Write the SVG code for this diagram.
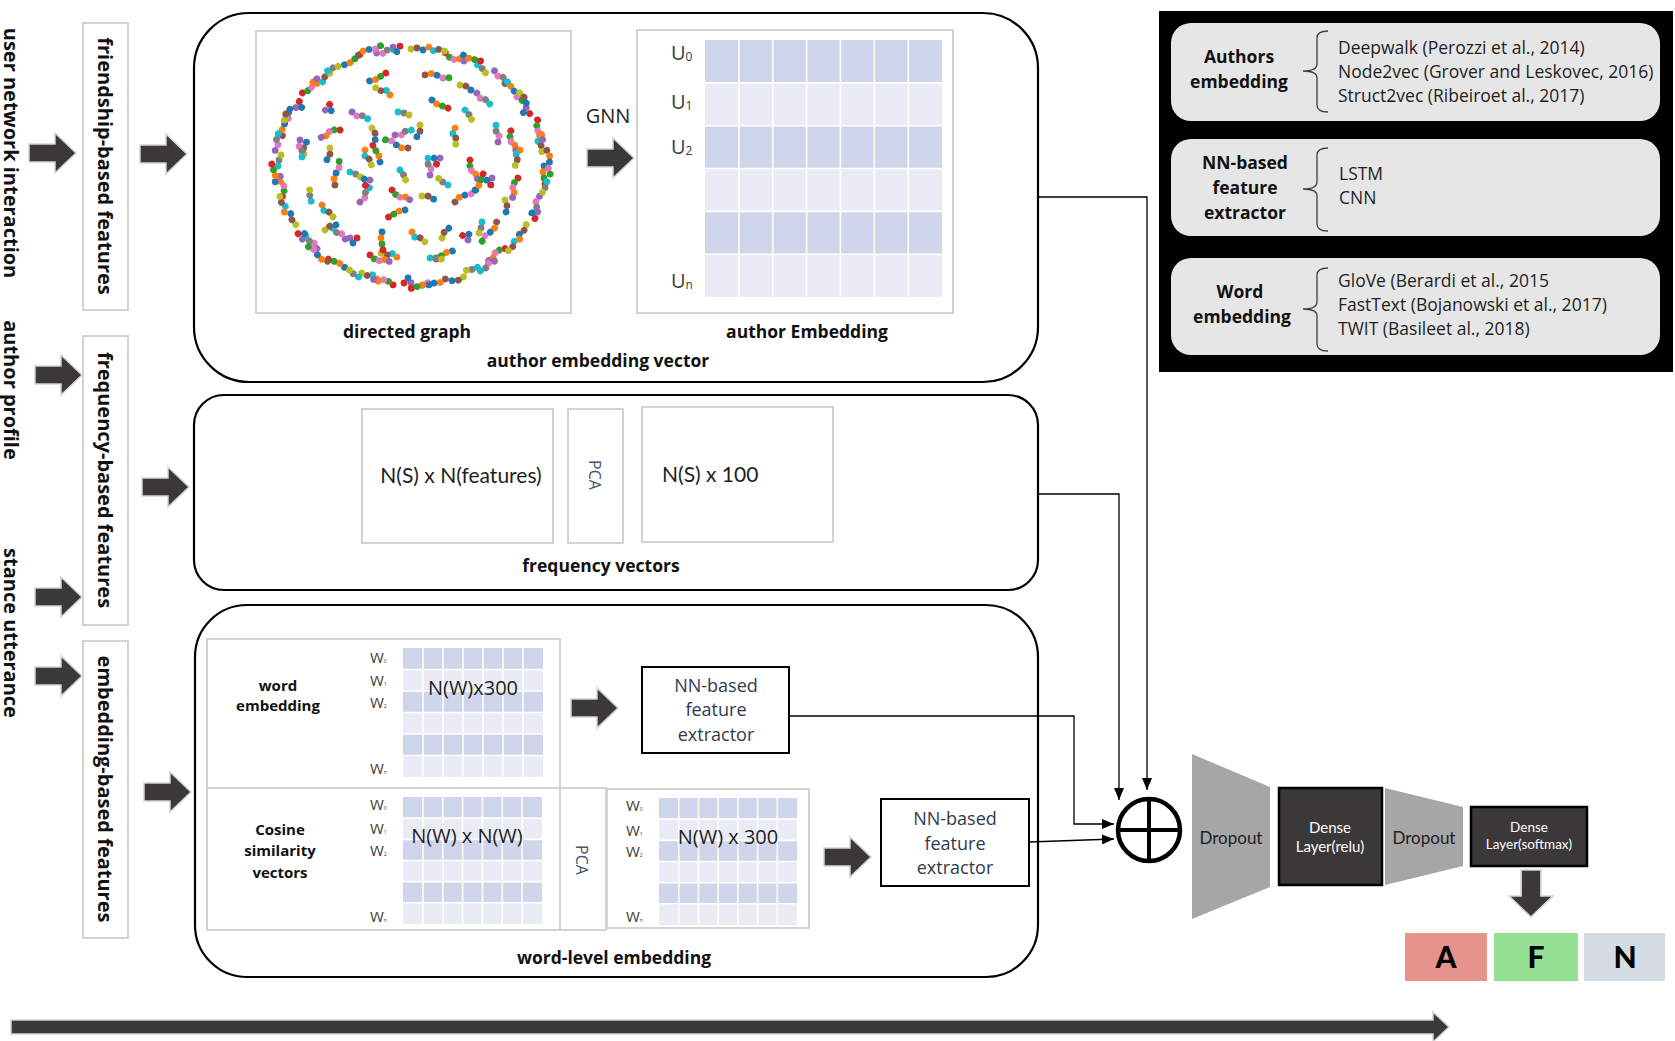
<svg xmlns="http://www.w3.org/2000/svg" xmlns:xlink="http://www.w3.org/1999/xlink" width="1675" height="1041" viewBox="0 0 1675 1041">
<style>
.frame{fill:#fff;stroke:#d3d3d3;stroke-width:2}
.big{fill:none;stroke:#000;stroke-width:2.2}
.blk{fill:#3a3838;stroke:#d4d4d4;stroke-width:1.5}
.vl{font-family:"Open Sans",sans-serif;font-weight:700;font-size:20px;fill:#111;text-anchor:middle}
.bl{font-family:"Open Sans",sans-serif;font-weight:700;font-size:17.5px;fill:#111;text-anchor:middle}
.sb{font-family:"Open Sans",sans-serif;font-weight:700;font-size:15px;fill:#111;text-anchor:middle}
.tx{font-family:"Open Sans",sans-serif;font-size:20px;fill:#1e1e1e}
.cal{font-family:Lato,"Open Sans",sans-serif;fill:#1e1e1e}
.nn{font-family:"Open Sans",sans-serif;font-size:18px;fill:#2f3b4c;text-anchor:middle}
.pca{font-family:"Open Sans",sans-serif;font-size:16px;fill:#44546a;text-anchor:middle}
.ul{font-family:"Open Sans",sans-serif;font-size:20px;fill:#3b3b3b}
.wl{font-family:"Open Sans",sans-serif;font-size:15px;fill:#3b3b3b}
.pt{font-family:"Open Sans",sans-serif;font-size:17.5px;fill:#1e1e1e}
.conn{fill:none;stroke:#000;stroke-width:1.3}
.dk{fill:#cfd5ea}
.lt{fill:#e9ebf5}
.ib{fill:#e7e6e6}
.brk{fill:none;stroke:#404040;stroke-width:1.3}
.drop{fill:#a6a6a6}
.dense{fill:#3a3838;stroke:#000;stroke-width:2.5}
.dt{font-family:Lato,"Open Sans",sans-serif;fill:#fff;text-anchor:middle}
.cls{font-family:Lato,"Liberation Sans",sans-serif;font-weight:900;font-size:30px;fill:#000;text-anchor:middle}
.b{fill:#1f77b4}.o{fill:#ff7f0e}.g{fill:#2ca02c}.r{fill:#d62728}.p{fill:#9467bd}.n{fill:#8c564b}.k{fill:#e377c2}.m{fill:#7f7f7f}.y{fill:#bcbd22}.c{fill:#17becf}
</style>
<defs>
<marker id="ah" viewBox="0 0 12 10" refX="12" refY="5" markerWidth="12" markerHeight="10" markerUnits="userSpaceOnUse" orient="auto"><path d="M0,0 L12,5 L0,10 Z" fill="#000"/></marker>
<path id="barrow" d="M0,-9 H26 V-20 L47,0 L26,20 V9 H0 Z"/>
<g id="grid">
<rect class="dk" x="0" y="0" width="140" height="21.33"/>
<rect class="lt" x="0" y="21.33" width="140" height="21.33"/>
<rect class="dk" x="0" y="42.67" width="140" height="21.33"/>
<rect class="lt" x="0" y="64" width="140" height="21.33"/>
<rect class="dk" x="0" y="85.33" width="140" height="21.33"/>
<rect class="lt" x="0" y="106.67" width="140" height="21.33"/>
<path d="M20,0V128M40,0V128M60,0V128M80,0V128M100,0V128M120,0V128M0,21.33H140M0,42.67H140M0,64H140M0,85.33H140M0,106.67H140" stroke="#fff" stroke-width="1.6" vector-effect="non-scaling-stroke" fill="none"/>
</g>
<g id="cA"><circle class="b" cx="0" cy="0" r="3.4"/><circle class="o" cx="6" cy="1" r="3.4"/><circle class="g" cx="12" cy="0" r="3.4"/><circle class="r" cx="18" cy="-1" r="3.4"/></g>
<g id="cB"><circle class="p" cx="0" cy="0" r="3.4"/><circle class="k" cx="6" cy="2" r="3.4"/><circle class="m" cx="11" cy="0" r="3.4"/><circle class="c" cx="17" cy="1" r="3.4"/></g>
<g id="cC"><circle class="y" cx="0" cy="0" r="3.4"/><circle class="n" cx="6" cy="-1" r="3.4"/><circle class="b" cx="12" cy="1" r="3.4"/></g>
<g id="cD"><circle class="r" cx="0" cy="0" r="3.4"/><circle class="g" cx="5" cy="3" r="3.4"/><circle class="k" cx="10" cy="4" r="3.4"/><circle class="o" cx="15" cy="2" r="3.4"/><circle class="p" cx="20" cy="3" r="3.4"/></g>
<g id="cE"><circle class="c" cx="0" cy="0" r="3.4"/><circle class="m" cx="6" cy="1" r="3.4"/><circle class="y" cx="11" cy="3" r="3.4"/></g>
<g id="cF"><circle class="n" cx="0" cy="0" r="3.4"/><circle class="o" cx="6" cy="-2" r="3.4"/><circle class="b" cx="12" cy="-1" r="3.4"/><circle class="k" cx="18" cy="1" r="3.4"/><circle class="g" cx="24" cy="0" r="3.4"/></g>
<g id="cG"><circle class="p" cx="0" cy="0" r="3.4"/><circle class="r" cx="7" cy="0" r="3.4"/><circle class="b" cx="3" cy="5" r="3.4"/></g>
<g id="cH"><circle class="o" cx="0" cy="0" r="3.4"/><circle class="c" cx="5" cy="3" r="3.4"/><circle class="n" cx="10" cy="1" r="3.4"/><circle class="y" cx="16" cy="2" r="3.4"/></g>
</defs>
<rect width="1675" height="1041" fill="#fff"/>

<!-- left column labels -->
<g id="lbl-user"><text class="vl" transform="translate(11,153) rotate(90)" y="7">user network interaction</text></g>
<g id="lbl-author"><text class="vl" transform="translate(11,390) rotate(90)" y="7">author profile</text></g>
<g id="lbl-stance"><text class="vl" transform="translate(11,633) rotate(90)" y="7">stance utterance</text></g>

<g id="friendship"><rect class="frame" x="83" y="23" width="45" height="287"/><text class="vl" transform="translate(105,166) rotate(90)" y="7">friendship-based features</text></g>
<g id="frequency"><rect class="frame" x="83" y="336" width="45" height="289"/><text class="vl" transform="translate(105,480) rotate(90)" y="7">frequency-based features</text></g>
<g id="embedding"><rect class="frame" x="83" y="641" width="45" height="297"/><text class="vl" transform="translate(105,789) rotate(90)" y="7">embedding-based features</text></g>

<g id="block-arrows">
<use href="#barrow" class="blk" transform="translate(29,153)"/>
<use href="#barrow" class="blk" transform="translate(140,154)"/>
<use href="#barrow" class="blk" transform="translate(35,375)"/>
<use href="#barrow" class="blk" transform="translate(142,487)"/>
<use href="#barrow" class="blk" transform="translate(35,597)"/>
<use href="#barrow" class="blk" transform="translate(35,676)"/>
<use href="#barrow" class="blk" transform="translate(144,792)"/>
<use href="#barrow" class="blk" transform="translate(587,158)"/>
<use href="#barrow" class="blk" transform="translate(571,708)"/>
<use href="#barrow" class="blk" transform="translate(824,857)"/>
<use href="#barrow" class="blk" transform="translate(1531,870) rotate(90) scale(1,1.1)"/>
<path class="blk" d="M11,1020 H1433 V1012 L1449,1027 L1433,1042 V1034 H11 Z"/>
</g>

<!-- box 1: author embedding vector -->
<g id="author-embedding-vector">
<rect class="big" x="194" y="13" width="844" height="369" rx="55"/>
<rect class="frame" x="256" y="31" width="315" height="282"/>
<g id="dots">
<use href="#cA" transform="translate(544,166) rotate(90)"/>
<use href="#cB" transform="translate(539.5,196.3) rotate(105)"/>
<use href="#cC" transform="translate(526.2,224.5) rotate(120)"/>
<use href="#cD" transform="translate(505,248.7) rotate(135)"/>
<use href="#cE" transform="translate(477.5,267.3) rotate(150)"/>
<use href="#cF" transform="translate(445.4,279) rotate(165)"/>
<use href="#cG" transform="translate(411,283) rotate(180)"/>
<use href="#cH" transform="translate(376.6,279) rotate(195)"/>
<use href="#cA" transform="translate(344.5,267.3) rotate(210)"/>
<use href="#cB" transform="translate(317,248.7) rotate(225)"/>
<use href="#cC" transform="translate(295.8,224.5) rotate(240)"/>
<use href="#cD" transform="translate(282.5,196.3) rotate(255)"/>
<use href="#cE" transform="translate(278,166) rotate(270)"/>
<use href="#cF" transform="translate(282.5,135.7) rotate(285)"/>
<use href="#cG" transform="translate(295.8,107.5) rotate(300)"/>
<use href="#cH" transform="translate(317,83.3) rotate(315)"/>
<use href="#cA" transform="translate(344.5,64.7) rotate(330)"/>
<use href="#cB" transform="translate(376.6,53) rotate(345)"/>
<use href="#cC" transform="translate(411,49) rotate(0)"/>
<use href="#cD" transform="translate(445.4,53) rotate(15)"/>
<use href="#cE" transform="translate(477.5,64.7) rotate(30)"/>
<use href="#cF" transform="translate(505,83.3) rotate(45)"/>
<use href="#cG" transform="translate(526.2,107.5) rotate(60)"/>
<use href="#cH" transform="translate(539.5,135.7) rotate(75)"/>
<use href="#cE" transform="translate(546.8,181.7) rotate(97)"/>
<use href="#cG" transform="translate(537.6,212) rotate(112)"/>
<use href="#cH" transform="translate(519.6,239.1) rotate(127)"/>
<use href="#cB" transform="translate(494.4,261.2) rotate(142)"/>
<use href="#cC" transform="translate(463.5,276.9) rotate(157)"/>
<use href="#cA" transform="translate(428.9,284.9) rotate(172)"/>
<use href="#cD" transform="translate(393.1,284.9) rotate(187)"/>
<use href="#cE" transform="translate(358.5,276.9) rotate(202)"/>
<use href="#cF" transform="translate(327.6,261.2) rotate(217)"/>
<use href="#cG" transform="translate(302.4,239.1) rotate(232)"/>
<use href="#cH" transform="translate(284.4,212) rotate(247)"/>
<use href="#cA" transform="translate(275.2,181.7) rotate(262)"/>
<use href="#cB" transform="translate(275.2,150.3) rotate(277)"/>
<use href="#cC" transform="translate(284.4,120) rotate(292)"/>
<use href="#cD" transform="translate(302.4,92.9) rotate(307)"/>
<use href="#cE" transform="translate(327.6,70.8) rotate(322)"/>
<use href="#cF" transform="translate(358.5,55.1) rotate(337)"/>
<use href="#cG" transform="translate(393.1,47.1) rotate(352)"/>
<use href="#cH" transform="translate(428.9,47.1) rotate(7)"/>
<use href="#cA" transform="translate(463.5,55.1) rotate(22)"/>
<use href="#cB" transform="translate(494.4,70.8) rotate(37)"/>
<use href="#cC" transform="translate(519.6,92.9) rotate(52)"/>
<use href="#cD" transform="translate(537.6,120) rotate(67)"/>
<use href="#cF" transform="translate(546.8,150.3) rotate(82)"/>
<use href="#cD" transform="translate(518,178) rotate(97)"/>
<use href="#cF" transform="translate(496.6,222) rotate(127)"/>
<use href="#cA" transform="translate(452.4,251) rotate(157)"/>
<use href="#cH" transform="translate(396.9,257.2) rotate(187)"/>
<use href="#cB" transform="translate(345.2,239) rotate(217)"/>
<use href="#cE" transform="translate(311.2,201.2) rotate(247)"/>
<use href="#cC" transform="translate(304,153.9) rotate(277)"/>
<use href="#cG" transform="translate(325.4,110) rotate(307)"/>
<use href="#cA" transform="translate(369.6,81) rotate(337)"/>
<use href="#cF" transform="translate(425.1,74.8) rotate(7)"/>
<use href="#cB" transform="translate(476.8,93) rotate(37)"/>
<use href="#cD" transform="translate(510.8,130.8) rotate(67)"/>
<use href="#cB" transform="translate(352,112) rotate(20)"/>
<use href="#cC" transform="translate(372,128) rotate(70)"/>
<use href="#cE" transform="translate(398,112) rotate(0)"/>
<use href="#cA" transform="translate(432,100) rotate(30)"/>
<use href="#cH" transform="translate(455,128) rotate(80)"/>
<use href="#cD" transform="translate(470,160) rotate(60)"/>
<use href="#cG" transform="translate(440,158) rotate(120)"/>
<use href="#cF" transform="translate(408,148) rotate(200)"/>
<use href="#cA" transform="translate(380,162) rotate(250)"/>
<use href="#cE" transform="translate(350,172) rotate(10)"/>
<use href="#cC" transform="translate(330,148) rotate(100)"/>
<use href="#cH" transform="translate(322,205) rotate(40)"/>
<use href="#cB" transform="translate(360,202) rotate(300)"/>
<use href="#cD" transform="translate(392,190) rotate(20)"/>
<use href="#cC" transform="translate(422,196) rotate(10)"/>
<use href="#cF" transform="translate(455,202) rotate(330)"/>
<use href="#cE" transform="translate(482,222) rotate(90)"/>
<use href="#cG" transform="translate(492,178) rotate(100)"/>
<use href="#cB" transform="translate(498,142) rotate(260)"/>
<use href="#cA" transform="translate(382,232) rotate(90)"/>
<use href="#cH" transform="translate(412,232) rotate(30)"/>
<use href="#cC" transform="translate(442,238) rotate(300)"/>
<use href="#cG" transform="translate(350,238) rotate(0)"/>
<use href="#cE" transform="translate(465,110) rotate(40)"/>
<use href="#cD" transform="translate(340,130) rotate(150)"/>
<use href="#cH" transform="translate(365,150) rotate(60)"/>
<use href="#cB" transform="translate(395,135) rotate(340)"/>
<use href="#cC" transform="translate(420,125) rotate(100)"/>
<use href="#cE" transform="translate(448,185) rotate(200)"/>
<use href="#cA" transform="translate(475,190) rotate(300)"/>
<use href="#cC" transform="translate(505,200) rotate(80)"/>
<use href="#cF" transform="translate(335,185) rotate(280)"/>
<use href="#cG" transform="translate(370,180) rotate(130)"/>
<use href="#cE" transform="translate(400,170) rotate(45)"/>
<use href="#cB" transform="translate(430,175) rotate(260)"/>
<use href="#cA" transform="translate(405,210) rotate(160)"/>
<use href="#cD" transform="translate(370,255) rotate(10)"/>
<use href="#cE" transform="translate(430,258) rotate(350)"/>
<use href="#cG" transform="translate(468,240) rotate(220)"/>
<use href="#cC" transform="translate(325,230) rotate(330)"/>
<use href="#cB" transform="translate(300,140) rotate(80)"/>
<use href="#cH" transform="translate(520,150) rotate(100)"/>
<use href="#cC" transform="translate(460,85) rotate(20)"/>
<use href="#cH" transform="translate(390,95) rotate(200)"/>
</g>
<text class="bl" x="407" y="338" font-size="18">directed graph</text>
<text class="tx" x="608" y="123" text-anchor="middle" font-size="18">GNN</text>
<rect class="frame" x="637" y="30" width="316" height="283"/>
<use href="#grid" transform="translate(705,40) scale(1.693,2.008)"/>
<text class="ul" x="671" y="60">U<tspan font-size="12" dy="1">0</tspan></text>
<text class="ul" x="671" y="109">U<tspan font-size="12" dy="1">1</tspan></text>
<text class="ul" x="671" y="154">U<tspan font-size="12" dy="1">2</tspan></text>
<text class="ul" x="671" y="288">U<tspan font-size="12" dy="1">n</tspan></text>
<text class="bl" x="807" y="338">author Embedding</text>
<text class="bl" x="598" y="367">author embedding vector</text>
</g>

<!-- box 2: frequency vectors -->
<g id="frequency-vectors">
<rect class="big" x="194" y="395" width="844" height="195" rx="30"/>
<rect class="frame" x="362" y="409" width="191" height="134"/>
<rect class="frame" x="568" y="409" width="55" height="134"/>
<rect class="frame" x="642" y="407" width="191" height="135"/>
<text class="cal" x="461" y="483" font-size="21" text-anchor="middle">N(S) x N(features)</text>
<text class="pca" transform="translate(595,475) rotate(90)" y="6">PCA</text>
<text class="cal" x="662" y="482" font-size="21">N(S) x 100</text>
<text class="bl" x="601" y="572">frequency vectors</text>
</g>

<!-- box 3: word-level embedding -->
<g id="word-level-embedding">
<rect class="big" x="195" y="605" width="843" height="372" rx="52"/>
<rect class="frame" x="207" y="639" width="353" height="149"/>
<rect class="frame" x="207" y="788" width="353" height="142"/>
<rect class="frame" x="560" y="788" width="46" height="142"/>
<rect class="frame" x="607" y="789" width="202" height="139"/>
<text class="sb" x="278" y="691">word</text>
<text class="sb" x="278" y="711">embedding</text>
<text class="sb" x="280" y="835">Cosine</text>
<text class="sb" x="280" y="856">similarity</text>
<text class="sb" x="280" y="878">vectors</text>
<use href="#grid" transform="translate(403,648) scale(1,1.008)"/>
<use href="#grid" transform="translate(403,797) scale(0.993,0.992)"/>
<use href="#grid" transform="translate(659,798) scale(0.986,0.992)"/>
<text class="wl" x="370" y="663">W<tspan font-size="5">0</tspan></text>
<text class="wl" x="370" y="686">W<tspan font-size="5">1</tspan></text>
<text class="wl" x="370" y="708">W<tspan font-size="5">2</tspan></text>
<text class="wl" x="370" y="774">W<tspan font-size="5">n</tspan></text>
<text class="wl" x="370" y="810">W<tspan font-size="5">0</tspan></text>
<text class="wl" x="370" y="834">W<tspan font-size="5">1</tspan></text>
<text class="wl" x="370" y="856">W<tspan font-size="5">2</tspan></text>
<text class="wl" x="370" y="922">W<tspan font-size="5">n</tspan></text>
<text class="wl" x="626" y="811">W<tspan font-size="5">0</tspan></text>
<text class="wl" x="626" y="836">W<tspan font-size="5">1</tspan></text>
<text class="wl" x="626" y="857">W<tspan font-size="5">2</tspan></text>
<text class="wl" x="626" y="922">W<tspan font-size="5">n</tspan></text>
<text class="tx" x="473" y="695" text-anchor="middle">N(W)x300</text>
<text class="tx" x="467" y="843" text-anchor="middle" font-size="21">N(W) x N(W)</text>
<text class="tx" x="728" y="844" text-anchor="middle">N(W) x 300</text>
<text class="pca" transform="translate(582,860) rotate(90)" y="6">PCA</text>
<text class="bl" x="614" y="964">word-level embedding</text>
</g>

<g id="nn-extractor-1">
<rect x="642" y="667" width="147" height="86" fill="#fff" stroke="#000" stroke-width="2"/>
<text class="nn" x="716" y="692">NN-based</text>
<text class="nn" x="716" y="716">feature</text>
<text class="nn" x="716" y="741">extractor</text>
</g>
<g id="nn-extractor-2">
<rect x="881" y="799" width="148" height="87" fill="#fff" stroke="#000" stroke-width="2"/>
<text class="nn" x="955" y="825">NN-based</text>
<text class="nn" x="955" y="850">feature</text>
<text class="nn" x="955" y="874">extractor</text>
</g>

<!-- legend panel -->
<g id="legend">
<rect x="1159" y="11" width="514" height="361" fill="#000"/>
<rect class="ib" x="1171" y="23" width="489" height="98" rx="20"/>
<rect class="ib" x="1171" y="139" width="489" height="97" rx="20"/>
<rect class="ib" x="1171" y="258" width="489" height="97" rx="20"/>
<path class="brk" d="M1328,31 Q1317,31 1317,38 V64 Q1317,71 1303,71 Q1317,71 1317,78 V105 Q1317,112 1328,112"/>
<path class="brk" d="M1328,148 Q1317,148 1317,155 V182 Q1317,189 1303,189 Q1317,189 1317,196 V224 Q1317,231 1328,231"/>
<path class="brk" d="M1328,268 Q1317,268 1317,275 V302 Q1317,309 1303,309 Q1317,309 1317,316 V344 Q1317,351 1328,351"/>
<text class="bl" x="1239" y="63">Authors</text>
<text class="bl" x="1239" y="88">embedding</text>
<text class="pt" x="1338" y="54">Deepwalk (Perozzi et al., 2014)</text>
<text class="pt" x="1338" y="78">Node2vec (Grover and Leskovec, 2016)</text>
<text class="pt" x="1338" y="102">Struct2vec (Ribeiroet al., 2017)</text>
<text class="bl" x="1245" y="169">NN-based</text>
<text class="bl" x="1245" y="194">feature</text>
<text class="bl" x="1245" y="219">extractor</text>
<text class="pt" x="1339" y="180">LSTM</text>
<text class="pt" x="1339" y="204">CNN</text>
<text class="bl" x="1240" y="298">Word</text>
<text class="bl" x="1242" y="323">embedding</text>
<text class="pt" x="1338" y="287">GloVe (Berardi et al., 2015</text>
<text class="pt" x="1338" y="311">FastText (Bojanowski et al., 2017)</text>
<text class="pt" x="1338" y="335">TWIT (Basileet al., 2018)</text>
</g>

<!-- classifier -->
<g id="concat">
<circle cx="1149" cy="830" r="31" fill="#fff" stroke="#000" stroke-width="4.5"/>
<path d="M1149,799 V861 M1118,830 H1180" stroke="#000" stroke-width="4"/>
</g>
<g id="dropout-1"><polygon class="drop" points="1192,754 1270,787 1270,887 1192,919"/><text class="cal" x="1231" y="844" font-size="17" text-anchor="middle">Dropout</text></g>
<g id="dense-relu"><rect class="dense" x="1279" y="788" width="103" height="97"/><text class="dt" x="1330" y="833" font-size="15">Dense</text><text class="dt" x="1330" y="852" font-size="15">Layer(relu)</text></g>
<g id="dropout-2"><polygon class="drop" points="1385,788 1463,807 1463,866 1385,885"/><text class="cal" x="1424" y="844" font-size="17" text-anchor="middle">Dropout</text></g>
<g id="dense-softmax"><rect class="dense" x="1471" y="807" width="116" height="59"/><text class="dt" x="1529" y="832" font-size="13.5">Dense</text><text class="dt" x="1529" y="849" font-size="13.5">Layer(softmax)</text></g>
<g id="class-A"><rect x="1405" y="933" width="82" height="48" fill="#e6938b"/><text class="cls" x="1446" y="968">A</text></g>
<g id="class-F"><rect x="1494" y="933" width="84" height="48" fill="#95e193"/><text class="cls" x="1536" y="968">F</text></g>
<g id="class-N"><rect x="1584" y="933" width="81" height="48" fill="#d6dce4"/><text class="cls" x="1625" y="968">N</text></g>

<g id="connectors">
<path class="conn" d="M1038,197 H1147 V790" marker-end="url(#ah)"/>
<path class="conn" d="M1038,494 H1119 V800" marker-end="url(#ah)"/>
<path class="conn" d="M789,716 H1074 V824 H1114" marker-end="url(#ah)"/>
<path class="conn" d="M1029,842 L1114,839" marker-end="url(#ah)"/>
</g>
</svg>
